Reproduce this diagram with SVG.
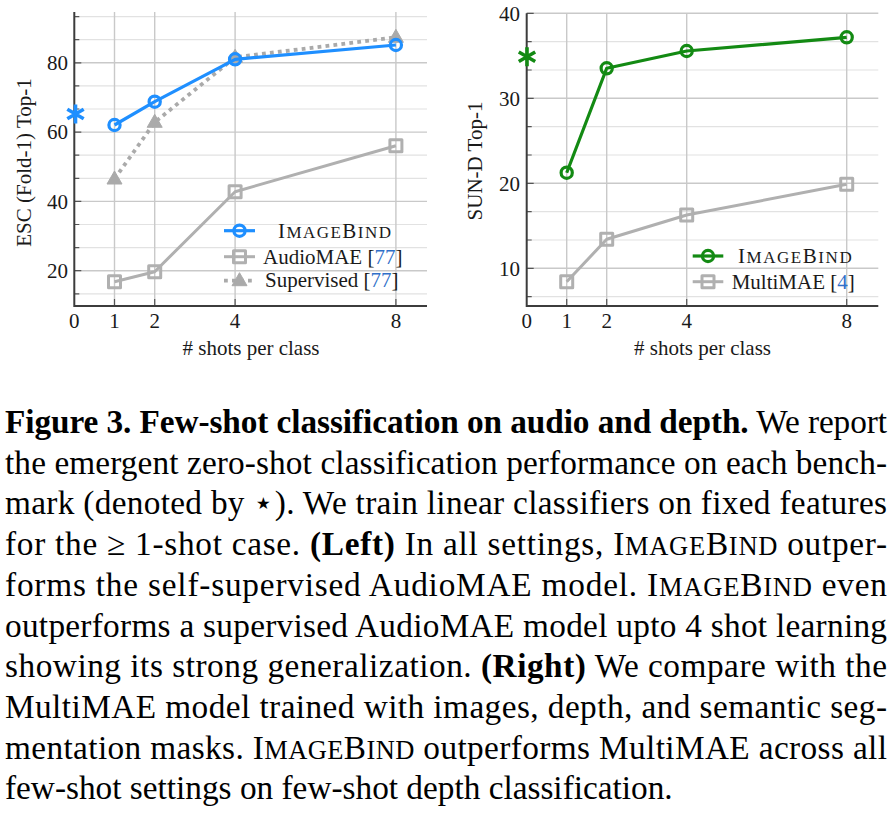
<svg xmlns="http://www.w3.org/2000/svg" xmlns:xlink="http://www.w3.org/1999/xlink" width="895" height="816" viewBox="0 0 895 816">
<style>
.bg{fill:#ffffff}
.gmaj{stroke:#c9c9c9;stroke-width:1.4;fill:none}
.gmin{stroke:#e2e2e2;stroke-width:1.2;fill:none}
.spine{stroke:#3c3c3c;stroke-width:2;fill:none}
.tick{stroke:#555;stroke-width:1.2;fill:none}
.t{font-family:"Liberation Serif","DejaVu Serif",serif;font-size:21px;fill:#1a1a1a}
.cap{font-family:"Liberation Serif","DejaVu Serif",serif;font-size:33.3px;fill:#000}
.b{font-weight:bold}
.cite{fill:#2f6fc9}
.blue{stroke:#1f8fff;stroke-width:3.2;fill:none;stroke-linejoin:round}
.green{stroke:#138a13;stroke-width:3.2;fill:none;stroke-linejoin:round}
.gray{stroke:#b0b0b0;stroke-width:3;fill:none;stroke-linejoin:round}
.dot{stroke:#aaaaaa;stroke-width:3.8;fill:none;stroke-dasharray:3.8 4.2}
.tri{fill:#aaaaaa;stroke:#aaaaaa;stroke-width:1}
.star{stroke-width:3.6}
</style>
<defs>
<circle id="mc" cx="0" cy="0" r="5.6"/>
<rect id="ms" x="-6" y="-6" width="12" height="12"/>
<polygon id="mt" points="0,-8 7.5,5 -7.5,5"/>
<path id="ma" d="M0,-9.5V9.5M-8.2,-4.75L8.2,4.75M-8.2,4.75L8.2,-4.75"/>
</defs>
<rect class="bg" x="0" y="0" width="895" height="816"/>

<g id="left-chart">
  <g id="left-grid">
    <path class="gmin" d="M74.3,16.6H427M74.3,39.7H427M74.3,85.9H427M74.3,109H427M74.3,155.2H427M74.3,178.3H427M74.3,224.5H427M74.3,247.6H427M74.3,293.8H427"/>
    <path class="gmaj" d="M74.3,62.8H427M74.3,132.1H427M74.3,201.4H427M74.3,270.7H427"/>
    <path class="gmaj" d="M114.5,12V306M154.7,12V306M235.1,12V306M395.9,12V306"/>
    <path class="tick" d="M74.3,16.6h5M74.3,39.7h5M74.3,62.8h7M74.3,85.9h5M74.3,109h5M74.3,132.1h7M74.3,155.2h5M74.3,178.3h5M74.3,201.4h7M74.3,224.5h5M74.3,247.6h5M74.3,270.7h7M74.3,293.8h5"/>
    <path class="tick" d="M114.5,306v-7M154.7,306v-7M235.1,306v-7M395.9,306v-7"/>
    <path class="spine" d="M74.3,12V306H427"/>
  </g>
  <g id="left-ticklabels" class="t">
    <text x="68" y="70" text-anchor="end">80</text>
    <text x="68" y="139.3" text-anchor="end">60</text>
    <text x="68" y="208.6" text-anchor="end">40</text>
    <text x="68" y="277.9" text-anchor="end">20</text>
    <text x="74.3" y="328" text-anchor="middle">0</text>
    <text x="114.5" y="328" text-anchor="middle">1</text>
    <text x="154.7" y="328" text-anchor="middle">2</text>
    <text x="235.1" y="328" text-anchor="middle">4</text>
    <text x="395.9" y="328" text-anchor="middle">8</text>
    <text x="251" y="355" text-anchor="middle"># shots per class</text>
    <text transform="translate(31,162.5) rotate(-90)" text-anchor="middle">ESC (Fold-1) Top-1</text>
  </g>
  <g id="left-supervised">
    <polyline class="dot" points="114.5,179 154.7,122.3 235.1,57.3 395.9,37.3"/>
    <use xlink:href="#mt" class="tri" x="114.5" y="179"/>
    <use xlink:href="#mt" class="tri" x="154.7" y="122.3"/>
    <use xlink:href="#mt" class="tri" x="235.1" y="57.3"/>
    <use xlink:href="#mt" class="tri" x="395.9" y="37.3"/>
  </g>
  <g id="left-audiomae">
    <polyline class="gray" points="114.5,281.7 154.7,271.7 235.1,191.7 395.9,145.7"/>
    <use xlink:href="#ms" class="gray" x="114.5" y="281.7"/>
    <use xlink:href="#ms" class="gray" x="154.7" y="271.7"/>
    <use xlink:href="#ms" class="gray" x="235.1" y="191.7"/>
    <use xlink:href="#ms" class="gray" x="395.9" y="145.7"/>
  </g>
  <g id="left-imagebind">
    <polyline class="blue" points="114.5,125 154.7,101.7 235.1,59.3 395.9,45"/>
    <use xlink:href="#mc" class="blue" x="114.5" y="125"/>
    <use xlink:href="#mc" class="blue" x="154.7" y="101.7"/>
    <use xlink:href="#mc" class="blue" x="235.1" y="59.3"/>
    <use xlink:href="#mc" class="blue" x="395.9" y="45"/>
    <use xlink:href="#ma" class="blue star" x="75.5" y="114"/>
  </g>
  <g id="left-legend">
    <path class="blue" d="M224,230.7H255"/>
    <use xlink:href="#mc" class="blue" x="239.5" y="230.7"/>
    <text class="t" x="278" y="237.5" textLength="113" lengthAdjust="spacing">I<tspan font-size="17">MAGE</tspan>B<tspan font-size="17">IND</tspan></text>
    <path class="gray" d="M224,256.7H255"/>
    <use xlink:href="#ms" class="gray" x="239.5" y="256.7"/>
    <text class="t" x="263" y="263.5">AudioMAE [<tspan class="cite">77</tspan>]</text>
    <path class="dot" d="M224,280.7H255"/>
    <use xlink:href="#mt" class="tri" x="239.5" y="280.7"/>
    <text class="t" x="265" y="287">Supervised [<tspan class="cite">77</tspan>]</text>
  </g>
</g>

<g id="right-chart">
  <g id="right-grid">
    <path class="gmin" d="M526.7,41.6H878.3M526.7,70H878.3M526.7,126.6H878.3M526.7,155H878.3M526.7,211.6H878.3M526.7,240H878.3M526.7,296.6H878.3"/>
    <path class="gmaj" d="M526.7,13.3H878.3M526.7,98.3H878.3M526.7,183.3H878.3M526.7,268.3H878.3"/>
    <path class="gmaj" d="M566.7,13.3V306M606.7,13.3V306M686.7,13.3V306M846.7,13.3V306"/>
    <path class="tick" d="M526.7,13.3h7M526.7,41.6h5M526.7,70h5M526.7,98.3h7M526.7,126.6h5M526.7,155h5M526.7,183.3h7M526.7,211.6h5M526.7,240h5M526.7,268.3h7M526.7,296.6h5"/>
    <path class="tick" d="M566.7,306v-7M606.7,306v-7M686.7,306v-7M846.7,306v-7"/>
    <path class="spine" d="M526.7,13.3V306H878.3"/>
  </g>
  <g id="right-ticklabels" class="t">
    <text x="520" y="20.5" text-anchor="end">40</text>
    <text x="520" y="105.5" text-anchor="end">30</text>
    <text x="520" y="190.5" text-anchor="end">20</text>
    <text x="520" y="275.5" text-anchor="end">10</text>
    <text x="526.7" y="328" text-anchor="middle">0</text>
    <text x="566.7" y="328" text-anchor="middle">1</text>
    <text x="606.7" y="328" text-anchor="middle">2</text>
    <text x="686.7" y="328" text-anchor="middle">4</text>
    <text x="846.7" y="328" text-anchor="middle">8</text>
    <text x="702.5" y="355" text-anchor="middle"># shots per class</text>
    <text transform="translate(482,161) rotate(-90)" text-anchor="middle">SUN-D Top-1</text>
  </g>
  <g id="right-multimae">
    <polyline class="gray" points="566.7,281.7 606.7,239.3 686.7,215 846.7,184.3"/>
    <use xlink:href="#ms" class="gray" x="566.7" y="281.7"/>
    <use xlink:href="#ms" class="gray" x="606.7" y="239.3"/>
    <use xlink:href="#ms" class="gray" x="686.7" y="215"/>
    <use xlink:href="#ms" class="gray" x="846.7" y="184.3"/>
  </g>
  <g id="right-imagebind">
    <polyline class="green" points="566.7,172.7 606.7,68.3 686.7,51 846.7,37.3"/>
    <use xlink:href="#mc" class="green" x="566.7" y="172.7"/>
    <use xlink:href="#mc" class="green" x="606.7" y="68.3"/>
    <use xlink:href="#mc" class="green" x="686.7" y="51"/>
    <use xlink:href="#mc" class="green" x="846.7" y="37.3"/>
    <use xlink:href="#ma" class="green star" x="527" y="56.7"/>
  </g>
  <g id="right-legend">
    <path class="green" d="M692.7,256H723.3"/>
    <use xlink:href="#mc" class="green" x="708" y="256"/>
    <text class="t" x="738" y="263" textLength="113.7" lengthAdjust="spacing">I<tspan font-size="17">MAGE</tspan>B<tspan font-size="17">IND</tspan></text>
    <path class="gray" d="M692.7,281.7H723.3"/>
    <use xlink:href="#ms" class="gray" x="708" y="281.7"/>
    <text class="t" x="731.7" y="288.5">MultiMAE [<tspan class="cite">4</tspan>]</text>
  </g>
</g>

<g id="caption" class="cap">
  <text x="5" y="433" textLength="882" lengthAdjust="spacing"><tspan class="b">Figure 3. Few-shot classification on audio and depth.</tspan> We report</text>
  <text x="5" y="473.7" textLength="882" lengthAdjust="spacing">the emergent zero-shot classification performance on each bench-</text>
  <text x="5" y="514.4" textLength="882" lengthAdjust="spacing">mark (denoted by ⋆). We train linear classifiers on fixed features</text>
  <text x="5" y="555.1" textLength="882" lengthAdjust="spacing">for the ≥ 1-shot case. <tspan class="b">(Left)</tspan> In all settings, I<tspan font-size="26.5">MAGE</tspan>B<tspan font-size="26.5">IND</tspan> outper-</text>
  <text x="5" y="595.8" textLength="882" lengthAdjust="spacing">forms the self-supervised AudioMAE model. I<tspan font-size="26.5">MAGE</tspan>B<tspan font-size="26.5">IND</tspan> even</text>
  <text x="5" y="636.5" textLength="882" lengthAdjust="spacing">outperforms a supervised AudioMAE model upto 4 shot learning</text>
  <text x="5" y="677.2" textLength="882" lengthAdjust="spacing">showing its strong generalization. <tspan class="b">(Right)</tspan> We compare with the</text>
  <text x="5" y="717.9" textLength="882" lengthAdjust="spacing">MultiMAE model trained with images, depth, and semantic seg-</text>
  <text x="5" y="758.6" textLength="882" lengthAdjust="spacing">mentation masks. I<tspan font-size="26.5">MAGE</tspan>B<tspan font-size="26.5">IND</tspan> outperforms MultiMAE across all</text>
  <text x="5" y="799.3">few-shot settings on few-shot depth classification.</text>
</g>
</svg>
